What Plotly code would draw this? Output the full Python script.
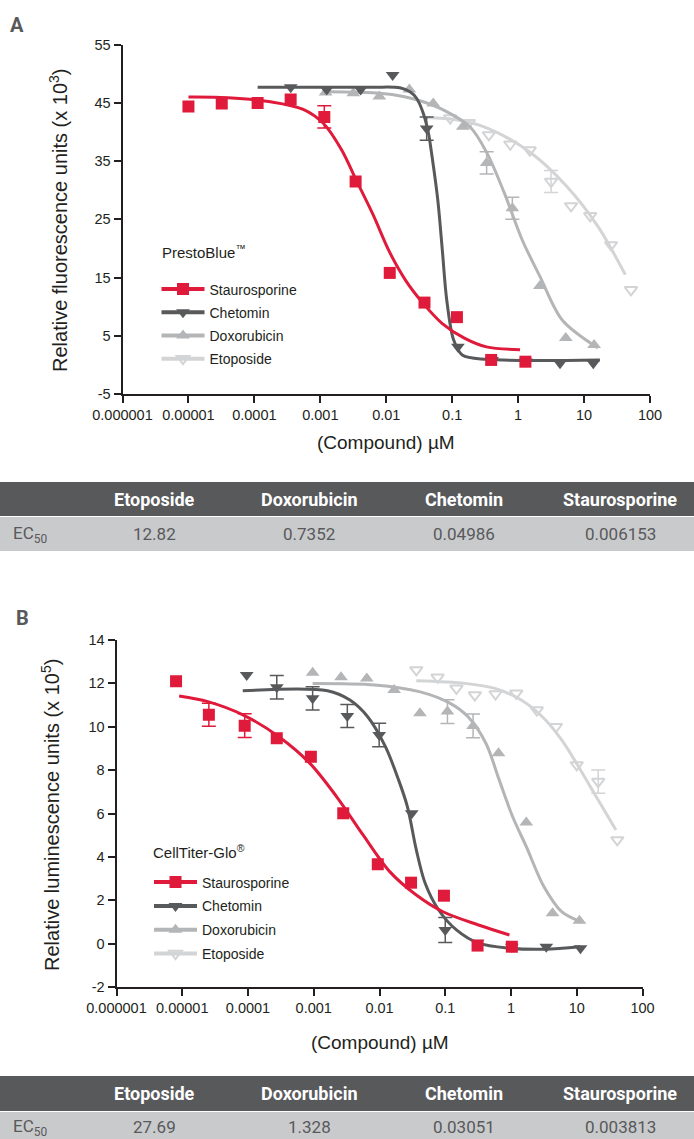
import plotly.graph_objects as go

W, H = 694, 1139

# ---------------- DATA ----------------
tick_vals = [1e-6, 1e-5, 1e-4, 1e-3, 1e-2, 1e-1, 1, 10, 100]
tick_text = ["0.000001", "0.00001", "0.0001", "0.001", "0.01", "0.1", "1", "10", "100"]
a_yticks = [-5, 5, 15, 25, 35, 45, 55]
a_ytext = ["-5", "5", "15", "25", "35", "45", "55"]
b_yticks = [-2, 0, 2, 4, 6, 8, 10, 12, 14]
b_ytext = ["-2", "0", "2", "4", "6", "8", "10", "12", "14"]
names = ["Staurosporine", "Chetomin", "Doxorubicin", "Etoposide"]

# Panel A  PrestoBlue (RFU x 10^3)
a_stau_x = [1.0e-5, 3.2e-5, 1.12e-4, 3.55e-4, 1.15e-3, 3.43e-3, 1.13e-2, 3.8e-2, 0.118, 0.39, 1.29]
a_stau_y = [44.4, 44.9, 45.0, 45.6, 42.6, 31.5, 15.8, 10.7, 8.2, 0.85, 0.55]
a_stau_e = [None, None, None, None, 1.9, None, None, None, None, None, None]
a_stau_fx = [1.0e-5, 3.98e-5, 1.74e-4, 5.5e-4, 1.11e-3, 2.11e-3, 3.55e-3, 6.31e-3, 1.12e-2, 2.0e-2, 3.55e-2, 7.08e-2, 0.153, 0.331, 1.07]
a_stau_fy = [46.0, 45.9, 45.2, 43.9, 41.5, 36.9, 31.6, 25.8, 19.4, 14.4, 10.7, 7.1, 4.6, 3.1, 2.6]

a_chet_x = [3.56e-4, 1.25e-3, 4.09e-3, 1.25e-2, 4.1e-2, 0.122, 0.402, 1.31, 4.32, 13.8]
a_chet_y = [47.7, 47.3, 47.3, 49.8, 40.6, 3.1, 0.85, 0.6, 0.3, 0.3]
a_chet_e = [None, None, None, None, 2.0, None, None, None, None, None]
a_chet_fx = [1.12e-4, 1.0e-3, 6.31e-3, 1.61e-2, 2.29e-2, 2.88e-2, 3.65e-2, 4.37e-2, 4.79e-2, 6.05e-2, 7.08e-2, 8.26e-2, 0.105, 0.142, 0.331, 17.4]
a_chet_fy = [47.7, 47.7, 47.7, 47.6, 46.9, 45.8, 43.2, 39.8, 36.9, 28.3, 19.75, 11.2, 4.3, 1.7, 0.95, 0.85]

a_doxo_x = [1.2e-3, 3.16e-3, 7.85e-3, 2.24e-2, 5.16e-2, 0.145, 0.333, 0.818, 2.14, 5.28, 14.2]
a_doxo_y = [46.8, 46.65, 46.1, 47.3, 44.9, 40.9, 34.7, 26.9, 13.55, 4.6, 3.4]
a_doxo_e = [None, None, None, None, None, None, 1.9, 1.9, None, None, None]
a_doxo_fx = [1.26e-3, 8.04e-3, 1.81e-2, 3.63e-2, 7.33e-2, 0.186, 0.333, 0.619, 1.15, 2.14, 4.66, 16.2]
a_doxo_fy = [46.9, 46.65, 46.1, 45.2, 43.8, 40.9, 36.5, 29.5, 21.5, 15.2, 7.7, 2.9]

a_etop_x = [9.33e-2, 0.179, 0.36, 0.759, 1.5, 3.16, 6.35, 12.4, 25.7, 51.6]
a_etop_y = [42.4, 41.6, 39.5, 37.9, 36.9, 31.5, 27.3, 25.6, 20.6, 12.9]
a_etop_e = [None, None, None, None, None, 1.9, None, None, None, None]
a_etop_fx = [4.07e-2, 0.117, 0.355, 1.57, 5.44, 16.2, 42.2]
a_etop_fy = [42.5, 42.1, 40.6, 36.4, 30.7, 23.8, 15.5]

# Panel B  CellTiter-Glo (RLU x 10^5)
b_stau_x = [8.05e-6, 2.54e-5, 8.91e-5, 2.74e-4, 9.04e-4, 2.81e-3, 9.42e-3, 3.02e-2, 9.55e-2, 0.31, 1.03]
b_stau_y = [12.1, 10.55, 10.05, 9.47, 8.62, 6.01, 3.66, 2.81, 2.21, -0.09, -0.14]
b_stau_e = [None, 0.53, 0.55, None, None, None, None, None, None, None, None]
b_stau_fx = [8.97e-6, 2.45e-5, 8.51e-5, 2.95e-4, 8.75e-4, 2.22e-3, 5.62e-3, 1.43e-2, 3.63e-2, 9.23e-2, 0.32, 0.948]
b_stau_fy = [11.42, 11.16, 10.54, 9.54, 8.31, 6.78, 5.01, 3.32, 2.24, 1.47, 0.86, 0.40]

b_chet_x = [9.55e-5, 2.74e-4, 9.62e-4, 3.24e-3, 9.89e-3, 3.09e-2, 0.1, 0.31, 1.03, 3.44, 11.4]
b_chet_y = [12.39, 11.82, 11.31, 10.5, 9.62, 6.01, 0.63, 0.04, -0.14, -0.14, -0.21]
b_chet_e = [None, 0.54, 0.54, 0.53, 0.54, None, 0.58, None, None, None, None]
b_chet_fx = [8.32e-5, 1.62e-3, 3.55e-3, 6.61e-3, 1.23e-2, 1.95e-2, 2.66e-2, 3.63e-2, 4.95e-2, 7.94e-2, 0.148, 0.32, 0.948, 3.25, 11.4]
b_chet_fy = [11.66, 11.66, 11.23, 10.46, 9.08, 7.55, 6.31, 4.32, 2.78, 1.55, 0.63, 0.02, -0.21, -0.26, -0.14]

b_doxo_x = [9.62e-4, 2.6e-3, 6.41e-3, 1.67e-2, 4.12e-2, 0.108, 0.265, 0.646, 1.71, 4.28, 11.0]
b_doxo_y = [12.49, 12.28, 12.23, 11.69, 10.62, 10.7, 10.04, 8.78, 5.58, 1.40, 1.06]
b_doxo_e = [None, None, None, None, None, 0.55, 0.55, None, None, None, None]
b_doxo_fx = [9.62e-4, 8.51e-3, 4.03e-2, 0.119, 0.222, 0.415, 0.661, 1.06, 1.71, 3.16, 5.89, 11.4]
b_doxo_fy = [12.0, 11.93, 11.62, 11.08, 10.46, 9.24, 7.55, 5.85, 4.47, 2.63, 1.47, 1.01]

b_etop_x = [3.63e-2, 7.64e-2, 0.148, 0.282, 0.582, 1.2, 2.47, 4.82, 10.0, 21.2, 41.4]
b_etop_y = [12.62, 12.28, 11.77, 11.46, 11.51, 11.54, 10.77, 10.0, 8.24, 7.47, 4.78]
b_etop_e = [None, None, None, None, None, None, None, None, None, 0.54, None]
b_etop_fx = [3.63e-2, 0.2, 0.568, 1.43, 3.16, 5.89, 11.4, 21.2, 39.4]
b_etop_fy = [12.12, 12.0, 11.77, 11.23, 10.39, 9.39, 8.01, 6.62, 5.24]

# EC50 tables
table_cols = ["Etoposide", "Doxorubicin", "Chetomin", "Staurosporine"]
a_ec50 = ["12.82", "0.7352", "0.04986", "0.006153"]
b_ec50 = ["27.69", "1.328", "0.03051", "0.003813"]

# ---------------- STYLE ----------------
RED, DARK, MID, LIGHT = "#e01a3b", "#58595b", "#b4b5b7", "#d3d4d6"
AX = "#231f20"
FONT = "Liberation Sans, Arial, sans-serif"
TFONT = "Roboto, Liberation Sans, Arial, sans-serif"
colors = [RED, DARK, MID, LIGHT]
symbols = ["square", "triangle-down", "triangle-up", "triangle-down-open"]


def px(x):
    return x / W


def py(y):
    return 1 - y / H


fig = go.Figure()

panels = [
    dict(xa="x", ya="y", leg="legend",
         series=[(a_stau_x, a_stau_y, a_stau_e, a_stau_fx, a_stau_fy),
                 (a_chet_x, a_chet_y, a_chet_e, a_chet_fx, a_chet_fy),
                 (a_doxo_x, a_doxo_y, a_doxo_e, a_doxo_fx, a_doxo_fy),
                 (a_etop_x, a_etop_y, a_etop_e, a_etop_fx, a_etop_fy)]),
    dict(xa="x2", ya="y2", leg="legend2",
         series=[(b_stau_x, b_stau_y, b_stau_e, b_stau_fx, b_stau_fy),
                 (b_chet_x, b_chet_y, b_chet_e, b_chet_fx, b_chet_fy),
                 (b_doxo_x, b_doxo_y, b_doxo_e, b_doxo_fx, b_doxo_fy),
                 (b_etop_x, b_etop_y, b_etop_e, b_etop_fx, b_etop_fy)]),
]

order = [3, 2, 1, 0]  # draw light first so red/dark sit on top
for p in panels:
    for i in order:
        xs, ys, es, fx, fy = p["series"][i]
        c = colors[i]
        fig.add_trace(go.Scatter(x=fx, y=fy, mode="lines", xaxis=p["xa"], yaxis=p["ya"],
                                 line=dict(color=c, width=3, shape="spline", smoothing=0.9),
                                 showlegend=False, hoverinfo="skip"))
        ex = [x for x, e in zip(xs, es) if e is not None]
        ey = [y for y, e in zip(ys, es) if e is not None]
        ee = [e for e in es if e is not None]
        if ex:
            fig.add_trace(go.Scatter(x=ex, y=ey, mode="markers", xaxis=p["xa"], yaxis=p["ya"],
                                     marker=dict(opacity=0, size=2),
                                     error_y=dict(type="data", array=ee, visible=True,
                                                  color=c, thickness=1.5, width=7),
                                     showlegend=False, hoverinfo="skip"))
        mk = dict(color=c, size=12, symbol=symbols[i])
        if i == 3:
            mk = dict(color=c, size=11, symbol=symbols[i], line=dict(color=c, width=2))
        fig.add_trace(go.Scatter(x=xs, y=ys, mode="markers", xaxis=p["xa"], yaxis=p["ya"],
                                 marker=mk, showlegend=False))
    for i in range(4):
        mk = dict(color=colors[i], size=12, symbol=symbols[i])
        if i == 3:
            mk = dict(color=colors[i], size=11, symbol=symbols[i], line=dict(color=colors[i], width=2))
        fig.add_trace(go.Scatter(x=[None], y=[None], mode="lines+markers", name=names[i],
                                 xaxis=p["xa"], yaxis=p["ya"], legend=p["leg"],
                                 legendgroup=p["leg"] + names[i],
                                 line=dict(color=colors[i], width=4), marker=mk))

axis_common = dict(showline=True, linecolor=AX, linewidth=2, ticks="outside", ticklen=7,
                   tickwidth=1.8, tickcolor=AX, showgrid=False, zeroline=False, automargin=False,
                   tickfont=dict(family=FONT, size=14.5, color=AX), mirror=False)

legend_common = dict(xanchor="left", yanchor="top", bgcolor="rgba(0,0,0,0)",
                     font=dict(family=FONT, size=14, color=AX),
                     itemwidth=43, traceorder="grouped")

fig.update_layout(
    width=W, height=H, margin=dict(l=0, r=0, t=0, b=0, pad=0, autoexpand=False),
    paper_bgcolor="white", plot_bgcolor="white", showlegend=True,
    xaxis=dict(axis_common, type="log", range=[-6, 2], tickvals=tick_vals, ticktext=tick_text,
               domain=[px(122.5), px(650)], anchor="y"),
    yaxis=dict(axis_common, range=[-5, 55], tickvals=a_yticks, ticktext=a_ytext,
               domain=[py(394), py(44.7)], anchor="x"),
    xaxis2=dict(axis_common, type="log", range=[-6, 2], tickvals=tick_vals, ticktext=tick_text,
                domain=[px(116.5), px(642.5)], anchor="y2"),
    yaxis2=dict(axis_common, range=[-2, 14], tickvals=b_yticks, ticktext=b_ytext,
                domain=[py(987), py(640)], anchor="x2"),
    legend=dict(legend_common, x=px(156.5), y=py(273.5), tracegroupgap=2),
    legend2=dict(legend_common, x=px(149), y=py(866.5), tracegroupgap=2.6),
)


def note(text, x, y, size, color=AX, family=FONT, xanchor="center", angle=0):
    return dict(text=text, x=px(x), y=py(y), xref="paper", yref="paper", showarrow=False,
                xanchor=xanchor, yanchor="middle", textangle=angle,
                font=dict(family=family, size=size, color=color))


ann = [
    note("<b>A</b>", 17, 25, 20, DARK, TFONT),
    note("<b>B</b>", 22, 618, 20, DARK, TFONT),
    note("Relative fluorescence units (x 10<sup>3</sup>)", 59, 220, 20, angle=-90),
    note("(Compound) µM", 386, 443, 19),
    note("Relative luminescence units (x 10<sup>5</sup>)", 50, 815, 20, angle=-90),
    note("(Compound) µM", 380, 1042, 19),
    note("PrestoBlue<sup>™</sup>", 160, 252, 15, xanchor="left"),
    note("CellTiter-Glo<sup>®</sup>", 151, 851, 15, xanchor="left"),
]

shapes = []
col_cx = [154, 309, 464, 620]
tables = [(482, 516, 517, 551, 534, a_ec50), (1076, 1111, 1112, 1139, 1127, b_ec50)]
for (hy0, hy1, ry0, ry1, row_c, vals) in tables:
    shapes.append(dict(type="rect", xref="paper", yref="paper", x0=0, x1=1, y0=py(hy1), y1=py(hy0),
                       fillcolor=DARK, line=dict(width=0), layer="below"))
    shapes.append(dict(type="rect", xref="paper", yref="paper", x0=0, x1=1, y0=py(ry1), y1=py(ry0),
                       fillcolor="#c9cacc", line=dict(width=0), layer="below"))
    for cx, name, v in zip(col_cx, table_cols, vals):
        ann.append(note("<b>" + name + "</b>", cx, (hy0 + hy1) / 2, 18, "white", TFONT))
        ann.append(note(v, cx, row_c, 17, DARK, TFONT))
    ann.append(note("EC<sub>50</sub>", 11, row_c, 17, DARK, TFONT, xanchor="left"))

fig.update_layout(annotations=ann, shapes=shapes)
fig.write_html("out.html", config={"displayModeBar": False},
               post_script="document.body.style.margin='0';document.body.style.overflow='hidden';")
